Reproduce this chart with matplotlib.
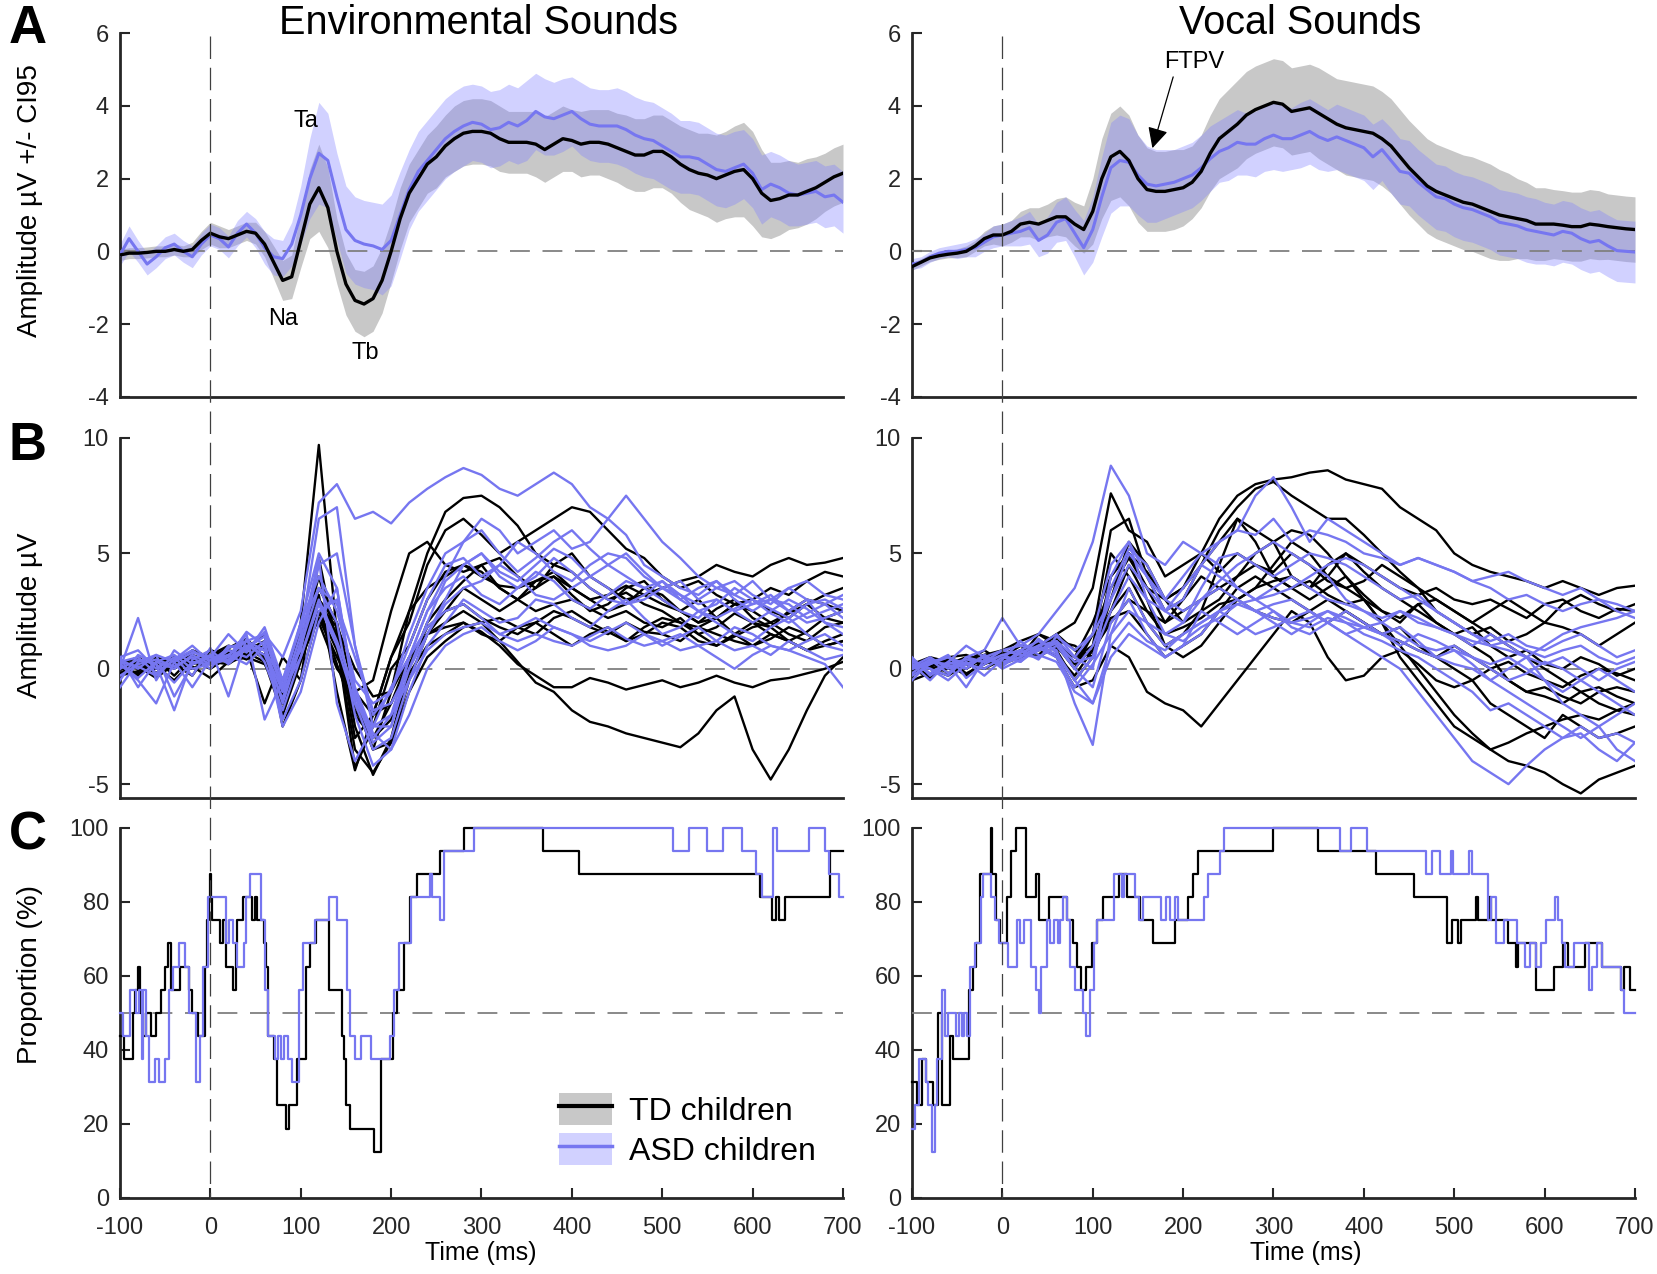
import numpy as np
import matplotlib
matplotlib.use("Agg")
import matplotlib.pyplot as plt
from matplotlib.patches import Patch
from matplotlib.lines import Line2D

plt.rcParams['font.family'] = ['Liberation Sans', 'DejaVu Sans']
plt.rcParams['axes.unicode_minus'] = False

# ---- A: grand averages (10 ms grid), mean and CI95 half width ----
time_a = np.arange(-100, 701, 10)

env_td_mean = [-0.10, -0.05, -0.05, -0.03, 0.00, 0.00, 0.05, 0.00, 0.05, 0.30,
               0.50, 0.40, 0.35, 0.45, 0.55, 0.50, 0.20, -0.30, -0.80, -0.70,
               0.30, 1.30, 1.75, 1.20, 0.00, -0.90, -1.35, -1.45, -1.30, -0.80,
               0.00, 0.90, 1.60, 2.00, 2.40, 2.60, 2.90, 3.10, 3.25, 3.30,
               3.30, 3.25, 3.10, 3.00, 3.00, 3.00, 2.95, 2.80, 2.95, 3.10,
               3.05, 2.95, 3.00, 3.00, 2.95, 2.85, 2.75, 2.65, 2.65, 2.75,
               2.75, 2.60, 2.40, 2.25, 2.15, 2.10, 2.00, 2.10, 2.20, 2.25,
               2.00, 1.60, 1.40, 1.45, 1.55, 1.55, 1.65, 1.75, 1.90, 2.05, 2.15]
env_td_ci = [0.15, 0.15, 0.15, 0.15, 0.15, 0.15, 0.15, 0.15, 0.2, 0.25,
             0.3, 0.3, 0.25, 0.25, 0.25, 0.3, 0.35, 0.45, 0.55, 0.6,
             0.75, 0.95, 1.2, 1.1, 0.9, 0.85, 0.85, 0.9, 0.9, 0.9,
             0.85, 0.85, 0.8, 0.8, 0.8, 0.85, 0.85, 0.9, 0.9, 0.9,
             0.9, 0.9, 0.9, 0.85, 0.85, 0.85, 0.9, 0.9, 0.9, 0.9,
             0.85, 0.9, 0.9, 0.9, 0.95, 0.95, 1.0, 1.0, 1.0, 1.0,
             1.0, 1.0, 1.05, 1.1, 1.1, 1.15, 1.2, 1.2, 1.25, 1.3,
             1.3, 1.2, 1.05, 1.0, 0.95, 0.9, 0.9, 0.85, 0.8, 0.8, 0.8]
env_asd_mean = [-0.10, 0.35, 0.00, -0.35, -0.15, 0.10, 0.20, 0.00, -0.15, 0.20,
                0.45, 0.35, 0.12, 0.50, 0.75, 0.50, 0.10, -0.15, -0.20, 0.20,
                1.00, 2.00, 2.70, 2.50, 1.50, 0.60, 0.30, 0.20, 0.15, 0.05,
                0.30, 1.00, 1.70, 2.20, 2.50, 2.80, 3.10, 3.30, 3.45, 3.55,
                3.50, 3.35, 3.40, 3.55, 3.45, 3.60, 3.85, 3.70, 3.65, 3.75,
                3.85, 3.65, 3.50, 3.45, 3.45, 3.45, 3.35, 3.20, 3.10, 3.05,
                2.90, 2.75, 2.60, 2.60, 2.55, 2.40, 2.25, 2.20, 2.30, 2.40,
                2.15, 1.70, 1.85, 1.75, 1.60, 1.55, 1.60, 1.65, 1.50, 1.55, 1.35]
env_asd_ci = [0.3, 0.35, 0.3, 0.3, 0.3, 0.3, 0.3, 0.3, 0.3, 0.3,
              0.3, 0.3, 0.3, 0.35, 0.35, 0.4, 0.45, 0.5, 0.5, 0.6,
              0.8, 1.1, 1.4, 1.3, 1.2, 1.2, 1.2, 1.2, 1.2, 1.25,
              1.25, 1.2, 1.1, 1.1, 1.1, 1.1, 1.1, 1.1, 1.1, 1.05,
              1.05, 1.05, 1.05, 1.05, 1.05, 1.1, 1.05, 1.05, 1.0, 1.0,
              0.95, 1.0, 1.0, 1.0, 1.0, 1.05, 1.05, 1.05, 1.05, 1.05,
              1.05, 1.05, 1.0, 1.0, 1.0, 1.0, 1.0, 1.0, 1.0, 0.95,
              0.95, 0.95, 0.9, 0.9, 0.9, 0.85, 0.85, 0.85, 0.85, 0.85, 0.85]

voc_td_mean = [-0.42, -0.30, -0.18, -0.12, -0.08, -0.05, 0.00, 0.15, 0.35, 0.45,
               0.45, 0.55, 0.75, 0.80, 0.75, 0.85, 0.95, 0.95, 0.75, 0.60,
               1.10, 2.00, 2.60, 2.75, 2.50, 2.00, 1.70, 1.65, 1.65, 1.70,
               1.75, 1.90, 2.20, 2.70, 3.10, 3.30, 3.50, 3.75, 3.90, 4.00,
               4.10, 4.05, 3.85, 3.90, 3.95, 3.80, 3.65, 3.50, 3.40, 3.35,
               3.30, 3.25, 3.10, 2.90, 2.60, 2.30, 2.05, 1.80, 1.65, 1.55,
               1.45, 1.35, 1.30, 1.20, 1.10, 1.00, 0.95, 0.90, 0.85, 0.75,
               0.75, 0.75, 0.72, 0.68, 0.68, 0.75, 0.72, 0.68, 0.65, 0.62, 0.60]
voc_td_ci = [0.1, 0.1, 0.1, 0.1, 0.1, 0.12, 0.15, 0.15, 0.2, 0.25,
             0.3, 0.3, 0.35, 0.4, 0.45, 0.45, 0.5, 0.55, 0.6, 0.65,
             0.9, 1.1, 1.2, 1.25, 1.25, 1.2, 1.15, 1.1, 1.1, 1.1,
             1.05, 1.0, 1.0, 1.05, 1.1, 1.15, 1.2, 1.2, 1.2, 1.2,
             1.2, 1.2, 1.2, 1.2, 1.2, 1.25, 1.25, 1.25, 1.3, 1.3,
             1.3, 1.3, 1.3, 1.3, 1.3, 1.3, 1.3, 1.3, 1.3, 1.3,
             1.3, 1.3, 1.3, 1.3, 1.3, 1.25, 1.2, 1.1, 1.05, 1.0,
             1.0, 0.95, 0.95, 0.95, 0.95, 0.95, 0.95, 0.9, 0.9, 0.9, 0.9]
voc_asd_mean = [-0.35, -0.30, -0.15, -0.05, 0.00, 0.00, 0.05, 0.10, 0.25, 0.40,
                0.45, 0.50, 0.55, 0.65, 0.30, 0.45, 0.80, 0.90, 0.50, 0.10,
                0.60, 1.50, 2.30, 2.50, 2.45, 2.10, 1.85, 1.80, 1.85, 1.90,
                2.00, 2.10, 2.30, 2.55, 2.75, 2.85, 3.00, 2.95, 2.95, 3.10,
                3.20, 3.10, 3.10, 3.20, 3.30, 3.15, 3.05, 3.15, 3.05, 2.95,
                2.85, 2.60, 2.80, 2.50, 2.20, 2.15, 1.90, 1.70, 1.50, 1.45,
                1.30, 1.20, 1.15, 1.05, 0.95, 0.80, 0.75, 0.70, 0.60, 0.55,
                0.50, 0.45, 0.55, 0.50, 0.35, 0.25, 0.30, 0.15, 0.02, 0.00, -0.02]
voc_asd_ci = [0.15, 0.15, 0.15, 0.15, 0.15, 0.2, 0.2, 0.25, 0.25, 0.3,
              0.3, 0.35, 0.4, 0.45, 0.45, 0.5, 0.55, 0.6, 0.65, 0.75,
              0.9, 1.1, 1.25, 1.25, 1.2, 1.1, 1.05, 1.0, 0.95, 0.9,
              0.9, 0.9, 0.9, 0.9, 0.85, 0.9, 0.9, 0.85, 0.9, 0.9,
              0.95, 0.9, 0.85, 0.9, 0.9, 0.9, 0.85, 0.9, 0.9, 0.9,
              0.9, 0.9, 0.85, 0.9, 0.9, 0.9, 0.9, 0.9, 0.9, 0.9,
              0.9, 0.9, 0.9, 0.9, 0.9, 0.9, 0.9, 0.9, 0.9, 0.9,
              0.85, 0.85, 0.85, 0.85, 0.85, 0.85, 0.85, 0.85, 0.85, 0.85, 0.85]

# ---- B: single-subject ERPs (20 ms grid) ----
time_b = np.arange(-100, 701, 20)

env_td_subj = [
    [0.2, -0.3, 0.5, 0.2, 0.8, 0.5, 0.9, 1.2, 0.8, -1.5, 2.0, 9.7, 1.5, -3.0, -2.0, 0.5, 2.5, 3.5, 4.0, 4.5, 4.2, 3.5, 3.0, 2.5, 2.8, 3.0, 2.6, 2.2, 2.5, 2.0, 1.8, 2.2, 1.5, 1.0, 1.4, 1.8, 2.0, 1.5, 1.2, 1.8, 2.0],
    [0.0, 0.3, -0.2, 0.5, 0.3, 0.8, 0.5, 1.0, 0.6, -1.2, 0.5, 3.0, 2.0, -1.0, -3.5, -1.0, 2.5, 5.0, 6.8, 7.4, 7.5, 7.0, 6.2, 5.0, 4.5, 4.2, 3.5, 3.0, 3.3, 2.8, 2.5, 2.0, 1.8, 1.5, 1.2, 1.0, 1.5, 1.2, 0.8, 1.0, 1.2],
    [0.2, 0.0, 0.4, -0.3, 0.5, 0.2, 0.6, 0.8, -1.5, 0.5, -0.5, 2.5, 0.2, -2.0, -3.0, -1.5, 0.5, 1.5, 2.0, 2.5, 2.0, 1.2, 0.3, -0.6, -1.0, -1.8, -2.3, -2.5, -2.8, -3.0, -3.2, -3.4, -2.8, -1.8, -1.2, -3.5, -4.8, -3.5, -1.8, -0.3, 0.5],
    [0.1, 0.4, -0.2, 0.3, 0.6, 0.3, 0.7, 0.4, 1.0, -0.8, 1.5, 2.8, 1.8, 0.0, -1.2, -1.0, 0.5, 1.5, 1.8, 2.0, 1.6, 1.0, 0.2, -0.3, -0.8, -0.8, -0.4, -0.6, -0.9, -0.7, -0.5, -0.8, -0.6, -0.3, -0.6, -0.8, -0.5, -0.4, -0.2, 0.0, 0.3],
    [0.0, -0.2, 0.3, 0.5, 0.2, 0.6, 1.0, 0.8, 1.2, -0.5, 1.0, 4.0, 1.2, -4.3, -2.5, 0.0, 1.0, 3.0, 4.2, 4.5, 4.0, 3.6, 3.5, 3.8, 4.0, 3.5, 3.0, 3.2, 3.6, 3.2, 3.5, 3.8, 4.0, 4.5, 4.2, 4.0, 4.5, 4.8, 4.5, 4.6, 4.8],
    [0.3, 0.1, -0.4, 0.2, 0.0, 0.4, 0.9, 1.3, 0.5, -1.8, 0.8, 3.5, 2.0, -2.5, -4.6, -3.0, 0.0, 2.0, 3.0, 3.8, 4.5, 4.8, 4.0, 3.5, 4.5, 5.0, 4.0, 3.5, 3.0, 3.2, 2.8, 2.5, 3.0, 2.2, 2.8, 3.0, 2.5, 2.2, 2.8, 3.2, 3.5],
    [-0.2, 0.2, 0.1, -0.5, 0.3, 0.0, 0.5, 0.9, 1.5, -2.5, -0.5, 4.8, 1.0, -3.5, -4.5, -3.2, -0.5, 1.5, 2.5, 3.5, 3.0, 2.5, 3.0, 3.5, 4.0, 3.2, 2.5, 2.8, 3.5, 3.8, 3.0, 2.5, 2.0, 2.6, 3.0, 2.2, 1.8, 2.5, 3.0, 2.8, 2.5],
    [0.4, 0.0, 0.3, 0.2, -0.3, 0.8, 0.6, 1.1, 0.9, -1.0, 1.2, 2.0, 0.0, -1.0, -2.0, -1.5, 0.2, 1.8, 2.5, 2.8, 2.2, 1.8, 1.5, 2.0, 2.5, 2.2, 1.8, 1.5, 2.0, 1.6, 1.5, 1.2, 1.8, 2.2, 1.5, 1.0, 1.3, 1.8, 1.5, 1.0, 1.2],
    [0.0, 0.3, 0.2, 0.1, 0.4, 0.2, 0.5, 1.0, 0.4, -1.5, 1.5, 3.2, -1.0, -4.4, -2.0, 0.5, 2.0, 4.5, 6.0, 6.5, 5.8, 5.0, 5.5, 6.0, 6.5, 7.0, 6.8, 6.0, 5.2, 4.8, 4.0, 3.5, 3.8, 3.2, 2.8, 3.0, 3.5, 3.2, 3.8, 4.2, 4.0],
    [-0.3, -0.1, 0.4, 0.0, 0.5, 0.3, 0.2, 0.7, 0.3, -2.0, 0.3, 2.5, 0.8, -1.8, -3.0, -2.2, -0.2, 1.0, 1.5, 2.0, 1.5, 1.2, 1.8, 2.0, 1.5, 1.0, 1.5, 1.8, 1.2, 1.5, 2.0, 1.8, 1.2, 1.0, 1.5, 2.0, 1.8, 1.2, 0.8, 1.2, 1.5],
    [0.1, -0.2, 0.0, 0.3, 0.2, 0.5, 0.8, 0.6, 1.0, -1.2, 0.5, 2.2, 0.5, -1.0, -0.5, 2.5, 5.0, 5.5, 4.5, 4.2, 4.5, 3.5, 3.0, 3.8, 4.2, 3.5, 3.0, 2.5, 2.8, 3.5, 3.2, 2.5, 2.0, 2.2, 2.8, 2.5, 2.0, 2.4, 2.8, 2.2, 2.0],
    [0.2, 0.5, 0.0, 0.4, 0.1, -0.4, 0.3, 0.5, 0.2, -1.2, 1.0, 3.0, 1.5, -1.5, -3.5, -3.2, -1.0, 0.5, 1.2, 1.8, 2.0, 2.2, 1.8, 1.5, 2.2, 2.5, 2.0, 1.6, 1.2, 1.8, 2.2, 2.0, 1.5, 1.8, 2.4, 2.0, 1.5, 1.2, 1.6, 2.2, 2.5],
]
env_asd_subj = [
    [0.3, 0.5, -0.2, 0.4, 0.8, 0.3, 0.9, 1.2, 1.5, 0.5, 2.5, 7.2, 8.0, 6.5, 6.8, 6.3, 7.2, 7.8, 8.3, 8.7, 8.4, 7.8, 7.5, 8.0, 8.5, 8.0, 7.0, 6.5, 7.5, 6.5, 5.5, 4.8, 4.0, 3.5, 3.2, 3.8, 3.0, 2.5, 3.0, 2.0, 1.5],
    [0.5, -0.8, 0.3, 0.0, 0.6, 0.2, 0.4, 1.0, 0.8, -1.0, 1.5, 6.5, 7.0, 1.0, -2.0, -1.0, 1.5, 3.5, 5.0, 5.5, 6.0, 5.0, 4.2, 4.8, 5.5, 6.0, 5.2, 4.5, 4.0, 3.5, 3.8, 3.2, 2.8, 3.0, 2.5, 2.8, 3.2, 2.5, 2.0, 2.2, 2.5],
    [0.0, 2.2, -0.5, 0.8, 0.2, 0.5, 1.5, 0.7, 1.8, -0.5, 2.0, 5.0, 3.5, -1.5, -3.5, -3.0, -0.5, 1.5, 3.0, 4.5, 5.0, 4.0, 3.5, 4.0, 4.8, 4.2, 3.5, 3.0, 2.8, 3.2, 3.8, 3.0, 2.5, 2.8, 3.5, 3.0, 2.6, 2.2, 2.8, 3.0, 2.6],
    [-0.8, 0.3, 0.6, -1.2, 0.2, 0.6, 0.3, 1.5, -2.2, -0.5, 0.8, 4.5, 5.0, 1.0, -2.5, -2.5, 0.5, 2.5, 4.0, 5.5, 6.5, 6.0, 5.0, 5.5, 6.0, 5.2, 5.5, 6.5, 5.8, 4.5, 4.0, 3.5, 3.2, 3.8, 3.0, 2.5, 3.0, 2.8, 2.2, 2.5, 2.8],
    [0.2, -0.5, -1.5, 0.3, -0.8, 0.4, 0.6, 0.2, 1.0, -1.5, 1.0, 3.5, 2.0, -2.0, -4.2, -3.5, -1.0, 1.0, 2.0, 3.0, 2.5, 2.0, 2.2, 3.0, 2.8, 2.2, 1.8, 2.5, 3.0, 2.2, 1.5, 1.8, 2.5, 2.0, 1.5, 1.2, 1.8, 2.2, 1.5, 1.0, 0.8],
    [0.5, 0.8, 0.0, 0.5, -0.3, 0.9, -1.2, 1.3, 0.3, -1.8, 0.5, 3.0, 1.2, -1.0, -3.0, -2.0, 0.5, 1.8, 2.5, 2.8, 2.2, 1.5, 1.2, 1.5, 1.2, 1.0, 1.4, 1.8, 1.3, 1.0, 1.2, 1.5, 1.0, 1.2, 1.8, 1.5, 1.0, 0.8, 1.2, 1.5, 1.0],
    [-0.3, 0.2, 0.4, 0.1, 0.5, 0.0, 1.0, 0.8, 1.6, -0.8, 2.0, 4.0, 2.5, -0.5, -1.5, -1.0, 1.0, 3.0, 4.5, 4.8, 4.0, 4.5, 5.5, 5.0, 4.2, 3.8, 4.5, 5.0, 4.8, 4.0, 3.5, 3.8, 3.0, 3.5, 3.8, 3.2, 2.8, 3.5, 3.0, 2.8, 3.2],
    [0.0, 0.4, 0.2, -0.6, 0.3, 0.2, 0.8, 0.5, 1.2, -2.2, -0.5, 2.5, 3.0, -0.8, -2.8, -3.5, -2.0, 0.0, 1.0, 1.5, 1.8, 1.2, 0.8, 1.2, 1.8, 1.5, 1.0, 0.8, 1.0, 1.5, 1.2, 0.8, 1.0, 0.5, 0.0, 0.6, 1.0, 0.8, 0.5, 0.2, -0.8],
    [0.4, 0.0, 0.6, 0.3, 0.7, 0.5, 0.3, 1.0, 0.6, -1.3, 1.2, 4.8, -1.5, -4.0, -2.5, -0.8, 0.5, 2.5, 3.5, 4.0, 3.2, 2.8, 3.5, 4.2, 3.8, 3.0, 2.6, 3.2, 3.8, 3.5, 3.0, 2.5, 2.2, 3.0, 2.5, 2.0, 2.5, 3.0, 2.6, 2.0, 1.8],
    [0.2, -0.4, 0.3, 0.6, 0.0, 0.2, 0.6, 1.2, 0.8, -0.5, 1.8, 3.5, 2.8, 0.5, -1.8, -1.5, 0.0, 1.5, 2.8, 3.5, 3.8, 4.5, 4.0, 3.2, 3.0, 3.5, 4.0, 3.5, 2.8, 3.0, 3.5, 3.2, 2.5, 2.2, 2.6, 3.0, 2.4, 2.0, 2.4, 2.8, 2.2],
    [-0.5, 0.6, 0.2, -1.8, 0.4, 0.8, 0.2, 0.9, 1.4, -1.0, 0.5, 2.8, 1.0, -1.5, -2.5, -2.0, -0.5, 0.8, 1.5, 1.8, 2.0, 1.5, 1.8, 2.2, 1.8, 1.5, 1.2, 1.6, 2.0, 1.5, 1.0, 1.4, 1.8, 1.2, 0.8, 1.0, 0.6, 1.2, 0.8, 0.4, 0.6],
    [0.3, 0.1, -0.3, 0.4, 1.0, 0.3, 0.5, 1.6, 1.0, -2.5, -1.0, 2.0, 3.5, -1.2, -3.2, -2.5, 0.0, 2.0, 3.8, 4.5, 5.0, 4.2, 3.8, 4.5, 5.2, 4.8, 4.0, 4.5, 5.0, 4.2, 3.5, 3.0, 3.5, 3.8, 3.2, 2.8, 3.0, 3.5, 3.8, 3.2, 3.0],
]
voc_td_subj = [
    [0.0, 0.3, -0.2, 0.4, 0.6, 0.5, 1.0, 0.8, 1.5, 2.0, 3.5, 7.6, 6.0, 5.5, 4.0, 4.5, 5.0, 4.2, 5.0, 4.5, 4.0, 3.5, 3.8, 3.2, 2.8, 3.0, 2.5, 2.2, 2.8, 2.0, 1.5, 1.8, 1.0, 0.5, 0.8, 0.2, 0.0, 0.5, 0.2, -0.3, 0.0],
    [-0.2, 0.1, 0.3, 0.0, 0.5, 0.3, 0.8, 1.2, 1.0, 0.5, 2.0, 4.0, 5.0, 4.2, 3.0, 3.5, 5.0, 6.5, 7.5, 8.0, 8.2, 8.3, 8.5, 8.6, 8.2, 8.0, 7.8, 7.0, 6.5, 6.0, 5.0, 4.5, 4.2, 4.0, 3.8, 3.5, 3.8, 3.5, 3.2, 3.5, 3.6],
    [0.3, 0.0, 0.2, -0.3, 0.4, 0.8, 0.5, 1.5, 1.2, 0.0, 1.0, 5.0, 4.0, 2.5, 2.0, 3.0, 4.5, 6.0, 7.0, 7.8, 8.1, 7.5, 7.0, 6.5, 6.5, 5.8, 5.0, 4.2, 3.5, 3.0, 2.5, 2.0, 1.5, 1.0, 0.5, 0.0, -0.5, -1.0, -1.5, -1.8, -2.0],
    [-0.5, -0.2, 0.0, 0.3, 0.2, 0.5, 0.8, 1.0, 0.5, -0.8, -0.5, 1.0, 0.5, -1.0, -1.5, -1.8, -2.5, -1.5, -0.5, 0.5, 1.5, 2.5, 2.0, 0.5, -0.5, -0.3, 0.5, 0.8, 0.2, -0.5, -0.8, -0.5, 0.0, 0.3, -0.2, -0.5, -0.8, -0.3, 0.0, -0.2, -0.5],
    [0.2, 0.5, 0.3, 0.0, 0.6, 0.8, 1.2, 1.5, 1.0, 0.0, 1.5, 3.5, 4.8, 3.5, 2.0, 2.5, 3.0, 3.5, 4.0, 4.5, 4.2, 5.0, 4.5, 3.8, 3.5, 3.0, 2.0, 1.0, 0.0, -1.0, -2.0, -2.8, -3.5, -4.0, -4.2, -4.5, -5.0, -5.4, -4.8, -4.5, -4.2],
    [0.1, -0.3, 0.2, 0.5, 0.3, 0.6, 0.4, 1.0, 1.5, 0.8, 0.5, 2.5, 3.5, 2.0, 1.0, 1.5, 2.5, 3.0, 4.0, 5.0, 5.5, 6.0, 5.8, 5.0, 4.0, 3.0, 2.0, 0.5, -0.5, -1.5, -2.5, -3.0, -3.5, -3.2, -2.8, -2.5, -2.2, -2.0, -2.2, -1.8, -1.5],
    [0.0, 0.2, 0.5, 0.2, 0.0, 0.4, 0.6, 0.8, 1.2, 1.0, 0.5, 3.0, 5.5, 4.5, 3.0, 2.0, 2.5, 4.5, 6.5, 5.5, 4.0, 3.5, 3.0, 3.5, 4.0, 3.2, 2.5, 2.0, 2.8, 3.0, 2.5, 2.0, 2.5, 3.0, 2.5, 2.0, 2.8, 3.2, 2.8, 2.5, 2.8],
    [0.4, 0.0, -0.3, 0.2, 0.5, 0.2, 0.8, 0.5, 1.0, 0.5, 1.0, 2.5, 4.5, 3.0, 1.0, 0.5, 1.0, 2.0, 3.0, 3.5, 3.8, 4.0, 3.5, 4.5, 5.0, 4.2, 3.5, 3.0, 2.5, 2.0, 1.5, 1.0, 0.5, -0.5, -1.0, -1.2, -1.5, -1.0, -0.8, -1.2, -1.5],
    [-0.3, 0.2, 0.5, 0.6, 0.3, 0.2, 0.5, 1.2, 0.8, -0.5, 0.5, 4.0, 5.0, 3.5, 3.0, 3.5, 4.5, 5.5, 6.5, 6.0, 5.5, 4.0, 3.5, 4.0, 5.0, 4.5, 4.0, 3.5, 3.2, 3.5, 3.0, 2.8, 3.0, 2.6, 2.2, 2.8, 3.0, 2.5, 2.2, 2.6, 2.5],
    [0.2, 0.4, 0.0, 0.3, 0.8, 0.3, 0.5, 0.9, 0.6, -0.3, 0.8, 2.0, 3.0, 2.5, 1.5, 1.8, 2.2, 2.8, 3.0, 2.5, 2.2, 2.0, 2.5, 3.0, 2.5, 2.0, 1.5, 1.2, 0.8, 0.5, 1.0, 0.5, 0.0, -0.5, -1.0, -0.8, -1.2, -1.5, -1.0, -0.8, -1.0],
    [0.0, -0.4, 0.3, 0.0, 0.5, 0.6, 1.0, 0.6, 1.3, 0.2, 1.5, 6.0, 6.5, 4.0, 2.5, 3.0, 4.0, 3.5, 3.0, 3.5, 4.5, 5.5, 5.0, 4.0, 3.5, 3.8, 4.5, 4.0, 3.5, 2.5, 2.0, 1.5, 1.8, 1.2, 1.5, 2.0, 1.8, 1.5, 1.0, 1.5, 2.0],
    [0.3, 0.1, 0.4, -0.2, 0.2, 0.7, 0.4, 1.1, 0.9, 0.3, 0.8, 2.2, 2.5, 1.5, 0.5, 1.0, 1.5, 2.5, 3.5, 4.0, 3.5, 3.0, 2.5, 2.0, 2.5, 2.0, 1.5, 1.8, 1.0, 0.5, 0.0, -0.5, -1.5, -2.0, -2.5, -3.0, -2.0, -2.5, -3.0, -2.8, -2.5],
]
voc_asd_subj = [
    [0.5, -0.3, 0.2, 0.4, 0.3, 0.8, 1.0, 1.5, 2.5, 3.5, 5.5, 8.8, 7.5, 5.0, 4.5, 5.5, 5.0, 5.5, 6.0, 5.8, 6.5, 5.5, 6.0, 5.8, 5.5, 5.0, 4.8, 4.5, 4.8, 4.5, 4.2, 3.8, 4.0, 4.2, 3.8, 3.5, 3.2, 3.5, 3.0, 2.8, 2.5],
    [0.0, 0.3, 0.5, 0.0, 0.6, 0.2, 0.5, 1.0, 1.2, 0.0, 1.0, 3.0, 4.5, 3.5, 2.5, 3.0, 4.5, 5.5, 6.0, 7.5, 8.3, 7.0, 5.5, 6.5, 6.0, 5.5, 5.0, 4.5, 4.8, 4.5, 4.2, 3.8, 3.5, 3.0, 3.2, 2.8, 2.5, 2.8, 3.0, 2.5, 2.2],
    [0.2, -0.5, 0.3, 1.0, 0.5, 0.2, 0.8, 1.2, 0.8, -1.5, -3.3, 1.5, 3.5, 2.0, 1.0, 1.5, 2.0, 2.5, 2.8, 2.5, 2.2, 2.0, 1.8, 2.2, 2.0, 1.5, 1.2, 0.8, 0.5, 0.0, -0.5, -1.0, -1.8, -1.5, -2.0, -2.5, -3.0, -2.8, -3.5, -4.0, -3.2],
    [0.0, 0.4, -0.2, 0.5, 0.8, 2.2, 1.0, 0.8, 1.2, 0.5, 1.5, 3.0, 5.0, 4.0, 2.5, 2.0, 3.0, 3.5, 3.0, 2.5, 2.8, 3.0, 2.5, 2.0, 1.5, 1.0, 0.5, 0.0, -1.0, -2.0, -3.0, -4.0, -4.5, -5.0, -4.2, -3.5, -3.0, -2.5, -3.0, -2.8, -3.2],
    [-0.3, 0.2, 0.5, 0.2, 0.0, 0.5, 0.3, 1.0, 1.5, 0.5, 0.0, 4.0, 5.5, 3.0, 1.5, 2.0, 3.5, 4.8, 5.0, 4.5, 4.0, 4.5, 5.0, 4.8, 4.5, 4.0, 3.5, 3.0, 3.2, 2.5, 2.0, 1.5, 1.2, 1.5, 1.0, 0.8, 1.2, 1.5, 1.0, 0.5, 0.8],
    [0.3, 0.0, -0.5, 0.2, 0.5, 0.8, 0.6, 0.5, 1.0, 0.0, -0.8, 2.0, 3.0, 1.5, 0.5, 1.0, 2.5, 2.0, 1.5, 2.0, 2.5, 1.8, 1.5, 2.0, 2.5, 2.0, 1.5, 1.8, 1.2, 0.5, 0.8, 0.2, -0.5, 0.0, 0.5, -0.5, -1.0, -0.5, 0.0, -0.5, -1.0],
    [-0.5, 0.3, 0.2, -0.8, 0.4, 0.3, 0.5, 1.3, 0.7, -0.5, 0.5, 2.5, 4.0, 3.0, 2.5, 3.5, 4.5, 4.0, 3.5, 3.0, 3.2, 3.5, 4.0, 4.5, 4.8, 4.5, 4.0, 3.5, 3.0, 2.5, 2.0, 1.5, 1.0, 0.8, 0.5, 0.2, 0.5, 0.0, -0.5, 0.0, 0.3],
    [0.1, 0.5, 0.0, 0.3, -0.3, 0.4, 1.2, 0.6, 0.3, -1.0, -1.5, 1.0, 2.0, 1.2, 0.8, 1.5, 2.0, 2.5, 2.0, 1.5, 1.8, 2.2, 2.5, 2.0, 1.5, 1.8, 2.0, 1.5, 1.0, 0.8, 1.0, 0.5, 0.2, 0.5, 0.0, -0.5, -1.5, -2.0, -2.5, -2.0, -1.5],
    [0.4, -0.2, 0.3, 0.0, 0.6, 0.0, 0.4, 0.8, 1.1, 0.3, 0.5, 3.5, 5.2, 4.5, 3.0, 2.5, 3.0, 3.8, 4.5, 5.0, 5.5, 5.0, 4.5, 4.0, 3.0, 2.5, 2.0, 2.5, 2.2, 1.8, 1.5, 1.0, 1.5, 1.0, 0.5, 1.0, 1.5, 1.8, 2.0, 2.2, 2.5],
    [0.0, 0.2, 0.6, -0.4, 0.2, 0.6, 0.3, 0.9, 0.5, -0.8, 0.2, 1.5, 2.5, 2.0, 1.5, 1.2, 1.8, 2.2, 2.8, 3.0, 2.5, 2.0, 2.2, 2.5, 2.0, 1.8, 1.5, 1.0, 1.5, 1.2, 0.8, 0.5, 0.0, -0.5, -0.2, 0.3, 0.0, -0.5, -1.0, -1.5, -2.0],
    [0.2, 0.0, -0.3, 0.5, 0.3, 0.6, 0.8, 0.4, 1.4, 0.8, 1.5, 4.5, 5.5, 4.0, 3.0, 4.0, 5.0, 4.5, 3.5, 3.0, 3.5, 4.0, 3.5, 3.0, 2.8, 2.5, 2.2, 2.5, 2.0, 1.8, 1.5, 1.2, 1.0, 1.2, 0.8, 0.5, 0.8, 1.0, 0.5, 0.2, 0.5],
    [-0.2, 0.4, 0.1, 0.2, 0.5, 0.1, 0.7, 1.0, 0.6, -0.5, -1.5, 0.5, 1.5, 1.0, 0.5, 1.0, 1.5, 2.5, 3.0, 2.5, 2.0, 1.5, 2.0, 2.5, 2.2, 1.8, 1.5, 1.2, 0.8, 0.5, 0.2, 0.0, -0.5, -1.0, -1.5, -2.0, -2.5, -3.0, -2.5, -3.5, -4.0],
]

# ---- C: proportion of children above threshold (step changes) ----
env_td_c_t = [-100, -96, -86, -83, -80, -78, -75, -71, -66, -60, -55, -50, -47, -44, -34, -24, -20, -14,
              -6, -4, -2, 0, 1, 2, 11, 14, 17, 25, 28, 30, 36, 46, 49, 52, 59, 62, 64, 70, 74, 84, 87,
              96, 106, 110, 117, 131, 146, 148, 150, 154, 181, 189, 202, 207, 214, 221, 229, 254, 281,
              368, 408, 608, 621, 626, 629, 636, 686, 700]
env_td_c_v = [43.75, 37.5, 50, 56.25, 62.5, 50, 43.75, 50, 43.75, 50, 56.25, 62.5, 68.75, 56.25, 62.5, 56.25, 50, 43.75,
              62.5, 75, 81.25, 87.5, 81.25, 75, 68.75, 75, 62.5, 56.25, 68.75, 75, 81.25, 75, 81.25, 75, 68.75, 62.5, 43.75, 37.5, 25, 18.75, 25,
              37.5, 62.5, 68.75, 75, 56.25, 43.75, 37.5, 25, 18.75, 12.5, 37.5, 50, 56.25, 68.75, 81.25, 87.5, 93.75, 100,
              93.75, 87.5, 81.25, 75, 81.25, 75, 81.25, 93.75, 93.75]
env_asd_c_t = [-100, -97, -89, -82, -79, -76, -74, -71, -68, -61, -57, -50, -46, -41, -35, -28, -24, -16, -12, -8, -3,
               17, 21, 25, 30, 37, 39, 44, 56, 60, 64, 72, 75, 78, 81, 86, 90, 98, 103, 116, 131, 140, 151, 155,
               160, 167, 178, 199, 203, 209, 222, 243, 245, 254, 258, 292, 512, 530, 549, 567, 588, 604, 610,
               623, 627, 662, 680, 685, 696, 700]
env_asd_c_v = [50, 43.75, 56.25, 50, 56.25, 37.5, 56.25, 43.75, 31.25, 37.5, 31.25, 37.5, 56.25, 62.5, 68.75, 62.5, 50, 31.25, 43.75, 62.5, 81.25,
               68.75, 75, 68.75, 62.5, 68.75, 81.25, 87.5, 75, 56.25, 43.75, 37.5, 43.75, 37.5, 43.75, 37.5, 31.25, 56.25, 68.75, 75, 81.25, 75, 56.25, 43.75,
               37.5, 43.75, 37.5, 43.75, 56.25, 68.75, 81.25, 87.5, 81.25, 75, 93.75, 100, 93.75, 100, 93.75, 100, 93.75, 87.5, 81.25,
               100, 93.75, 100, 93.75, 87.5, 81.25, 81.25]
voc_td_c_t = [-100, -95, -89, -84, -77, -71, -67, -58, -55, -37, -33, -29, -25, -13, -11, -7, -3, 5, 9, 15, 26,
              37, 40, 52, 72, 78, 83, 87, 92, 99, 105, 111, 129, 138, 152, 167, 191, 205, 211, 216, 299, 349,
              413, 456, 492, 497, 504, 507, 524, 526, 538, 541, 560, 568, 571, 590, 610, 620, 626, 645, 664,
              685, 688, 694, 700]
voc_td_c_v = [31.25, 25, 37.5, 31.25, 25, 50, 25, 43.75, 37.5, 56.25, 62.5, 68.75, 87.5, 100, 87.5, 75, 68.75, 81.25, 93.75, 100, 81.25,
              87.5, 75, 81.25, 75, 68.75, 62.5, 56.25, 62.5, 68.75, 75, 81.25, 87.5, 81.25, 75, 68.75, 75, 81.25, 87.5, 93.75, 100, 93.75,
              87.5, 81.25, 68.75, 75, 68.75, 75, 81.25, 75, 81.25, 75, 68.75, 62.5, 68.75, 56.25, 62.5, 68.75, 62.5, 68.75, 62.5,
              56.25, 62.5, 56.25, 56.25]
voc_asd_c_t = [-100, -97, -92, -85, -82, -78, -75, -72, -67, -63, -60, -51, -48, -45, -42, -39, -36, -30, -24, -21, -13,
               -8, -4, 6, 16, 20, 24, 32, 37, 40, 43, 49, 53, 57, 61, 64, 67, 71, 75, 80, 89, 93, 97, 101, 105,
               123, 132, 135, 147, 151, 156, 176, 181, 185, 191, 194, 223, 228, 241, 245, 374, 386, 404, 469,
               475, 484, 496, 499, 516, 520, 537, 541, 546, 555, 569, 578, 584, 590, 596, 602, 611, 615, 619,
               623, 632, 649, 652, 658, 664, 685, 688, 700]
voc_asd_c_v = [18.75, 25, 37.5, 31.25, 25, 12.5, 25, 37.5, 56.25, 43.75, 50, 43.75, 50, 43.75, 50, 43.75, 62.5, 68.75, 81.25, 87.5, 81.25,
               75, 68.75, 62.5, 75, 68.75, 75, 62.5, 56.25, 50, 62.5, 75, 68.75, 75, 68.75, 75, 81.25, 75, 62.5, 56.25, 50, 43.75, 56.25, 68.75, 75,
               87.5, 81.25, 87.5, 81.25, 75, 81.25, 75, 81.25, 75, 81.25, 75, 81.25, 87.5, 93.75, 100, 93.75, 100, 93.75, 87.5,
               93.75, 87.5, 93.75, 87.5, 93.75, 87.5, 75, 81.25, 68.75, 75, 68.75, 62.5, 68.75, 62.5, 68.75, 75, 81.25, 75, 68.75,
               62.5, 68.75, 56.25, 62.5, 68.75, 62.5, 56.25, 50, 50]

TD_LINE = "black"
ASD_LINE = "#7676f0"
TD_FILL = "#c8c8c8"
ASD_FILL = (0.5, 0.5, 1.0, 0.36)
AX_COL = "#262626"

W, H = 1658, 1274
fig = plt.figure(figsize=(W / 100, H / 100), dpi=100)

cols = [(120, 843), (912, 1635)]
rows = [(33.3, 396.7), (438, 798), (827.7, 1198)]


def make_ax(c, r):
    x0, x1 = cols[c]
    y0, y1 = rows[r]
    ax = fig.add_axes([x0 / W, 1 - y1 / H, (x1 - x0) / W, (y1 - y0) / H])
    for s in ["top", "right"]:
        ax.spines[s].set_visible(False)
    for s in ["left", "bottom"]:
        ax.spines[s].set_linewidth(2.0)
        ax.spines[s].set_color(AX_COL)
    ax.tick_params(direction="in", length=7, width=1.5, color=AX_COL,
                   labelsize=17, labelcolor=AX_COL, pad=8)
    ax.set_xlim(-100, 700)
    if r == 2:
        ax.set_xticks(range(-100, 701, 100))
        ax.tick_params(axis="x", pad=14)
    else:
        ax.set_xticks([])
    return ax


def zero_line(ax, y):
    ax.axhline(y, color="#808080", lw=1.3, dashes=(11, 7), zorder=3)


# A row
for c, (td_m, td_ci, asd_m, asd_ci) in enumerate([
        (env_td_mean, env_td_ci, env_asd_mean, env_asd_ci),
        (voc_td_mean, voc_td_ci, voc_asd_mean, voc_asd_ci)]):
    ax = make_ax(c, 0)
    td_m, td_ci = np.array(td_m), np.array(td_ci)
    asd_m, asd_ci = np.array(asd_m), np.array(asd_ci)
    ax.fill_between(time_a, td_m - td_ci, td_m + td_ci, color=TD_FILL, lw=0, zorder=1)
    ax.fill_between(time_a, asd_m - asd_ci, asd_m + asd_ci, color=ASD_FILL, lw=0, zorder=2)
    zero_line(ax, 0)
    ax.plot(time_a, asd_m, color=ASD_LINE, lw=2.2, zorder=4)
    ax.plot(time_a, td_m, color=TD_LINE, lw=2.4, zorder=5)
    ax.set_ylim(-4, 6)
    ax.set_yticks(range(-4, 7, 2))
    if c == 0:
        ax.text(106, 3.6, "Ta", fontsize=17, ha="center", va="center")
        ax.text(81, -1.87, "Na", fontsize=17, ha="center", va="center")
        ax.text(171, -2.8, "Tb", fontsize=17, ha="center", va="center")
    else:
        ax.text(212, 5.2, "FTPV", fontsize=17, ha="center", va="center")
        ax.annotate("", xy=(166, 2.84), xytext=(189, 4.8),
                    arrowprops=dict(arrowstyle="-|>,head_length=0.5,head_width=0.25",
                                    color="black", lw=0.9, mutation_scale=25,
                                    shrinkA=0, shrinkB=0), zorder=6)

# B row
for c, (td_s, asd_s) in enumerate([(env_td_subj, env_asd_subj), (voc_td_subj, voc_asd_subj)]):
    ax = make_ax(c, 1)
    zero_line(ax, 0)
    for s in td_s:
        ax.plot(time_b, s, color=TD_LINE, lw=1.7, zorder=4)
    for s in asd_s:
        ax.plot(time_b, s, color=ASD_LINE, lw=1.7, zorder=5)
    ax.set_ylim(-5.6, 10)
    ax.set_yticks([-5, 0, 5, 10])

# C row
for c, (tt, tv, at, av) in enumerate([
        (env_td_c_t, env_td_c_v, env_asd_c_t, env_asd_c_v),
        (voc_td_c_t, voc_td_c_v, voc_asd_c_t, voc_asd_c_v)]):
    ax = make_ax(c, 2)
    zero_line(ax, 50)
    ax.step(tt, tv, where="post", color=TD_LINE, lw=1.6, zorder=4, clip_on=False)
    ax.step(at, av, where="post", color=ASD_LINE, lw=1.6, zorder=5, clip_on=False)
    ax.set_ylim(0, 100)
    ax.set_yticks(range(0, 101, 20))
    if c == 0:
        handles = [(Patch(fc=TD_FILL, ec="none"), Line2D([], [], color=TD_LINE, lw=3)),
                   (Patch(fc=ASD_FILL, ec="none"), Line2D([], [], color=ASD_LINE, lw=2.5))]
        ax.legend(handles, ["TD children", "ASD children"], loc="upper left",
                  bbox_to_anchor=(0.607, 0.284), frameon=False, fontsize=23,
                  handlelength=1.65, handleheight=1.15, handletextpad=0.55,
                  labelspacing=0.2, borderpad=0, borderaxespad=0)

# stimulus onset lines across all rows
for x0, x1 in cols:
    xf = (x0 + (x1 - x0) * 100 / 800) / W
    fig.add_artist(Line2D([xf, xf], [1 - 36 / H, 1 - 1198 / H], transform=fig.transFigure,
                          color="#404040", lw=0.9, dashes=(18, 7)))

# titles, labels and panel letters
fig.text(479 / W, 1 - 34 / H, "Environmental Sounds", fontsize=28.5, ha="center", va="baseline")
fig.text(1300 / W, 1 - 34 / H, "Vocal Sounds", fontsize=28.5, ha="center", va="baseline")
fig.text(481 / W, 1 - 1253 / H, "Time (ms)", fontsize=18, ha="center", va="center")
fig.text(1306 / W, 1 - 1253 / H, "Time (ms)", fontsize=18, ha="center", va="center")
fig.text(29.6 / W, 1 - 201 / H, "Amplitude µV +/- CI95", fontsize=20, rotation=90, ha="center", va="center")
fig.text(29.6 / W, 1 - 615 / H, "Amplitude µV", fontsize=20, rotation=90, ha="center", va="center")
fig.text(29.6 / W, 1 - 975 / H, "Proportion (%)", fontsize=20, rotation=90, ha="center", va="center")
for letter, yc in [("A", 29), ("B", 446), ("C", 835)]:
    fig.text(28 / W, 1 - yc / H, letter, fontsize=38, fontweight="bold", ha="center", va="center")

fig.savefig("out.png", dpi=100)
